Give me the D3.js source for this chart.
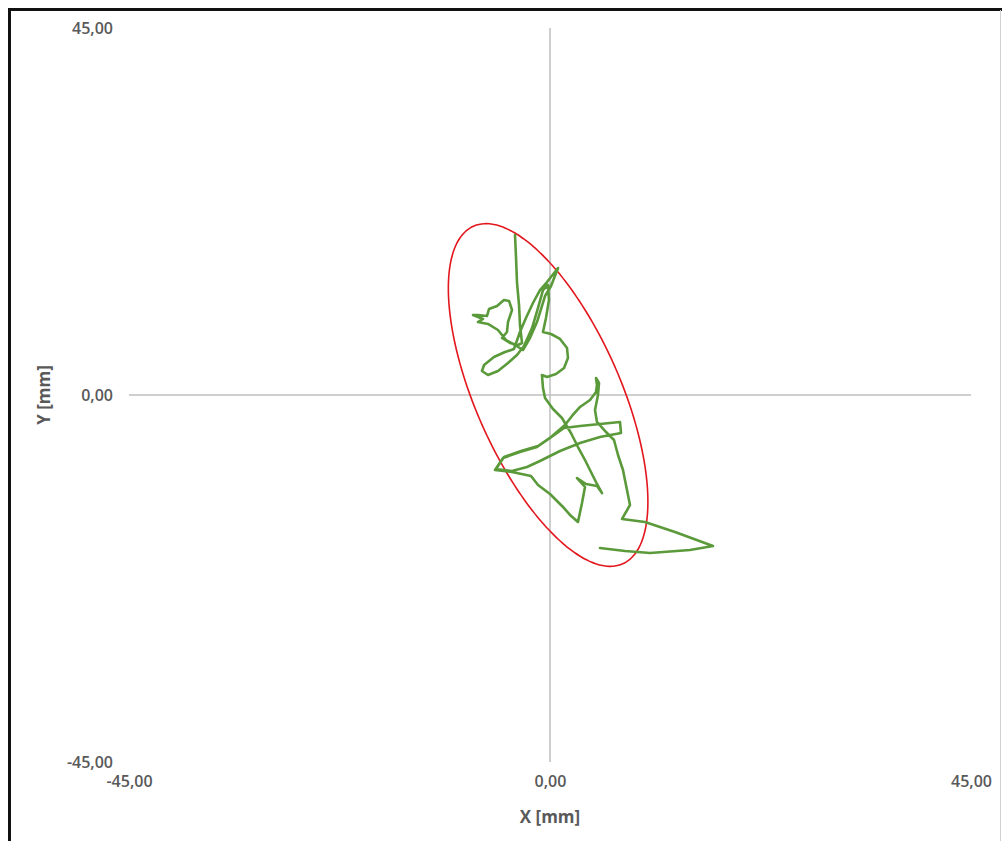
<!DOCTYPE html>
<html>
<head>
<meta charset="utf-8">
<script src="https://cdn.jsdelivr.net/npm/d3@7"></script>
<style>
  html, body { margin: 0; padding: 0; background: #fff; }
  svg { display: block; }
  .tick text { font-family: "Open Sans", Lato, sans-serif; font-weight: 600; font-size: 16px; fill: #595959; }
  .axis-title { font-family: "Open Sans", Lato, sans-serif; font-weight: 700; font-size: 17px; fill: #595959; }
</style>
</head>
<body>
<script>
// Sway path of the centre of pressure, in millimetres
const xPos = [
  -3.74, -3.63, -3.53, -3.31, -3.21, -2.99, -3.42, -4.28, -5.13, -4.60,
  -4.49, -4.06, -4.38, -4.92, -5.66, -6.52, -6.73, -7.70, -8.23, -7.16,
  -7.70, -6.63, -5.56, -4.70, -3.74, -2.89, -2.14, -1.39, -0.96, -0.53,
   0.11,  0.86, -0.32, -1.07, -1.82, -2.57, -3.21, -3.85, -4.81, -5.99,
  -7.05, -7.27, -6.63, -5.56, -4.49, -3.53, -2.78, -1.92, -1.28, -0.75,
  -0.21, -0.11, -0.43, -0.75,  0.11,  1.07,  1.82,  1.92,  1.50,  0.64,
  -0.32, -0.86, -0.75, -0.53,  0.32,  1.28,  2.24,  2.99,  3.74,  4.38,
   5.02,  5.56,  5.02,  3.85,  2.89,  3.74,  3.42,  2.99,  2.14,  1.39,
   0.00, -1.28, -2.03, -4.06, -5.88, -5.02, -3.21, -1.39,  0.00,  1.50,
   3.21,  5.34,  7.48,  7.59,  5.34,  3.21,  1.07, -1.07, -2.46, -4.06,
  -5.77, -4.92, -3.10, -1.28,  0.11,  1.60,  2.35,  3.21,  4.28,  4.92,
   5.02,  4.92,  5.24,  5.13,  4.81,  5.02,  5.99,  6.84,  7.27,  7.80,
   8.23,  8.55,  7.70, 10.15, 13.36, 17.42, 14.96, 10.69,  8.02,  5.34
];
const yPos = [
  19.62, 16.80, 13.85, 11.03,  8.58,  6.38,  6.13,  6.38,  6.99,  7.72,
   8.95, 10.42, 11.53, 11.65, 10.91, 10.54,  9.69,  9.81,  9.81,  9.32,
   8.95,  8.71,  7.97,  6.74,  6.13,  5.52,  6.99,  8.95, 10.54, 12.14,
  13.36, 15.57, 13.85, 12.87, 11.28,  9.44,  7.72,  5.64,  5.27,  4.66,
   3.68,  2.94,  2.45,  2.94,  3.92,  4.90,  6.01,  8.21, 10.67, 12.87,
  13.49, 11.65,  9.44,  7.72,  7.48,  6.87,  5.76,  4.54,  3.31,  2.57,
   2.21,  2.45,  0.86, -0.37, -1.72, -2.82, -4.66, -6.38, -7.97, -9.44,
 -10.91, -12.02, -11.16, -10.91, -10.18, -11.28, -13.24, -15.57, -14.71, -13.73,
 -12.14, -11.03, -9.93, -9.44, -9.20, -7.72, -6.99, -6.38, -5.27, -4.05,
  -3.80, -3.56, -3.31, -4.66, -5.15, -5.89, -6.87, -8.09, -8.83, -9.32,
  -9.07, -7.60, -6.87, -6.25, -5.15, -3.68, -2.57, -1.47, -0.61,  0.37,
   1.23,  2.08,  1.47,  0.00, -1.84, -3.31, -4.54, -5.52, -7.36, -9.20,
 -11.65, -13.49, -15.20, -15.57, -16.80, -18.51, -19.00, -19.37, -19.13, -18.76
];

// Confidence ellipse: centre [x, y], semi-axes [major, minor], rotation in degrees
const ellipseCenter = [-0.2, 0.0];
const ellipseAxes = [22.2, 7.9];
const ellipseAngle = -69.8;

// Axis extent and tick values
const axisExtent = [-45, 45];
const tickValues = [-45, 0, 45];

const W = 1002, H = 841;
const svg = d3.select("body").append("svg").attr("width", W).attr("height", H);

const x = d3.scaleLinear().domain(axisExtent).range([129, 971]);
const y = d3.scaleLinear().domain(axisExtent).range([762, 28]);

const locale = d3.formatLocale({ decimal: ",", thousands: ".", grouping: [3], currency: ["", ""], minus: "-" });
const fmt = locale.format(".2f");

// Frame
svg.append("path")
  .attr("d", `M9.5,${H + 5} V9.5 H${W + 5}`)
  .attr("fill", "none").attr("stroke", "#111").attr("stroke-width", 3);
svg.append("line")
  .attr("x1", W - 1.5).attr("x2", W - 1.5).attr("y1", 10).attr("y2", H)
  .attr("stroke", "#d0d0d0").attr("stroke-width", 1);

// Zero lines
svg.append("line")
  .attr("x1", x(axisExtent[0])).attr("x2", x(axisExtent[1]))
  .attr("y1", y(0)).attr("y2", y(0))
  .attr("stroke", "#bfbfbf").attr("stroke-width", 1.5);
svg.append("line")
  .attr("x1", x(0)).attr("x2", x(0))
  .attr("y1", y(axisExtent[1])).attr("y2", y(axisExtent[0]))
  .attr("stroke", "#bfbfbf").attr("stroke-width", 1.5);

// Tick labels (placed at the low end of the crossing axis)
const xAxis = svg.append("g")
  .attr("transform", `translate(0,${y(axisExtent[0])})`)
  .call(d3.axisBottom(x).tickValues(tickValues).tickFormat(fmt).tickSize(0).tickPadding(14));
const yAxis = svg.append("g")
  .attr("transform", `translate(${x(axisExtent[0])},0)`)
  .call(d3.axisLeft(y).tickValues(tickValues).tickFormat(fmt).tickSize(0).tickPadding(16));
[xAxis, yAxis].forEach(g => g.select(".domain").remove());
yAxis.selectAll(".tick text").attr("dy", "0.35em");

// Axis titles
svg.append("text").attr("class", "axis-title")
  .attr("x", x(0)).attr("y", 823).attr("text-anchor", "middle")
  .text("X [mm]");
svg.append("text").attr("class", "axis-title")
  .attr("transform", `translate(50,${y(0)}) rotate(-90)`)
  .attr("text-anchor", "middle")
  .text("Y [mm]");

// Ellipse outline
const rad = ellipseAngle * Math.PI / 180;
const ellipsePts = d3.range(0, 361, 2).map(deg => {
  const t = deg * Math.PI / 180;
  const a = ellipseAxes[0] * Math.cos(t), b = ellipseAxes[1] * Math.sin(t);
  return [ellipseCenter[0] + a * Math.cos(rad) - b * Math.sin(rad),
          ellipseCenter[1] + a * Math.sin(rad) + b * Math.cos(rad)];
});
svg.append("path")
  .datum(ellipsePts)
  .attr("d", d3.line().x(d => x(d[0])).y(d => y(d[1])).curve(d3.curveCardinalClosed))
  .attr("fill", "none").attr("stroke", "#e2181e").attr("stroke-width", 1.6);

// Sway trace
const trace = xPos.map((v, i) => [v, yPos[i]]);
svg.append("path")
  .datum(trace)
  .attr("d", d3.line().x(d => x(d[0])).y(d => y(d[1])))
  .attr("fill", "none").attr("stroke", "#5b9a3a").attr("stroke-width", 2.6)
  .attr("stroke-linejoin", "round").attr("stroke-linecap", "round");
</script>
</body>
</html>
